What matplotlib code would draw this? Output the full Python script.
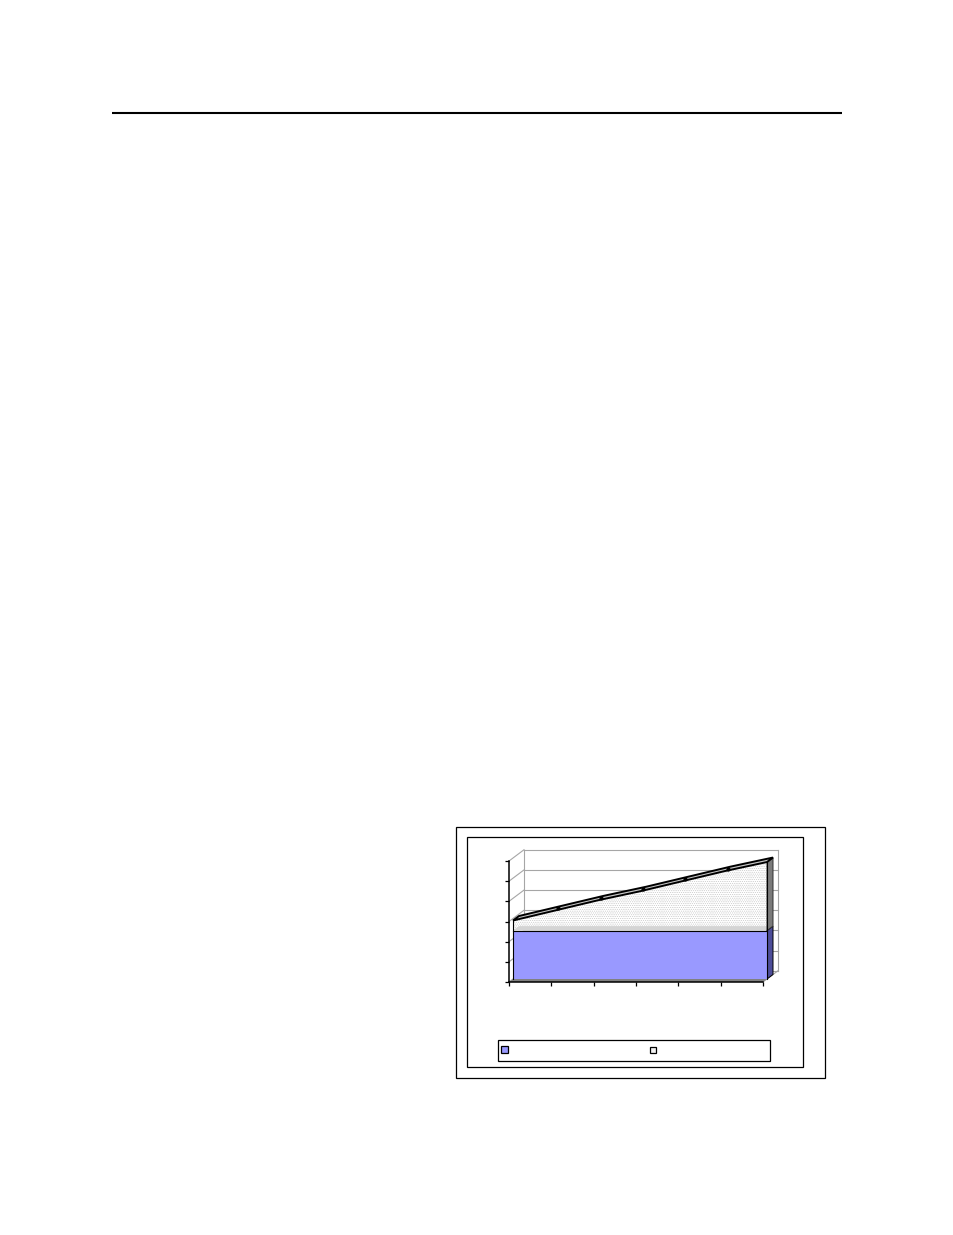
import numpy as np
import matplotlib
matplotlib.use("Agg")
import matplotlib.pyplot as plt
from matplotlib.patches import Polygon, Rectangle

# values (text labels are not legible in the reference)
categories = [0, 1, 2, 3, 4, 5, 6]
y_ticks = [0, 1, 2, 3, 4, 5, 6]
lower_series = [2.4, 2.4, 2.4, 2.4, 2.4, 2.4, 2.4]
upper_series = [0.5, 1.0, 1.5, 1.95, 2.45, 2.95, 3.4]

BLUE = "#9999ff"
BLUE_DARK = "#4d4d99"
GRID = "#a6a6a6"
STIPPLE = "." * 9

plt.rcParams["hatch.linewidth"] = 0.3

W, H = 954, 1235
fig = plt.figure(figsize=(W / 100, H / 100), dpi=100, facecolor="white")

# page furniture, in pixel coordinates
page = fig.add_axes([0, 0, 1, 1], zorder=3)
page.set_xlim(0, W)
page.set_ylim(H, 0)
page.axis("off")
page.plot([112, 842], [113, 113], color="black", lw=1.5, solid_capstyle="butt")
for x0, y0, x1, y1 in [(456.5, 826.5, 825.5, 1078), (467.5, 836.5, 803.5, 1067), (498, 1040, 770, 1061)]:
    page.add_patch(Rectangle((x0, y0), x1 - x0, y1 - y0, fc="none", ec="black", lw=0.9))
page.add_patch(Rectangle((501, 1046), 7, 7, fc=BLUE, ec="black", lw=0.9))
page.add_patch(Rectangle((650, 1047), 6, 6, fc="#f2f2f2", ec="black", lw=0.9))

# plot axes: front corner of the 3d box
ax = fig.add_axes([509 / W, 1 - 982 / H, 254 / W, 121 / H])
ax.set_xlim(categories[0], categories[-1])
ax.set_ylim(y_ticks[0], y_ticks[-1])
ax.patch.set_visible(False)
ax.spines[["top", "right"]].set_visible(False)
ax.spines[["left", "bottom"]].set_linewidth(1.1)
ax.set_xticks(categories)
ax.set_yticks(y_ticks)
ax.set_xticklabels([])
ax.set_yticklabels([])
ax.tick_params(length=3, width=0.9, direction="out")

x = np.array(categories, dtype=float)
lower = np.array(lower_series)
total = lower + np.array(upper_series)

# one pixel of depth in data units
PX = (x[-1] - x[0]) / 254
PY = (y_ticks[-1] - y_ticks[0]) / 121 * 0.75


def at_depth(xs, ys, d):
    return np.column_stack([np.asarray(xs, dtype=float) + d * PX, np.asarray(ys, dtype=float) + d * PY])


def face(pts, **kw):
    ax.add_patch(Polygon(pts, closed=True, clip_on=False, **kw))


WALL, FRONT, BACK = 15, 4, 10
x0, x1 = x[0], x[-1]
ymax = y_ticks[-1]

# back wall, side wall and gridlines
for t in y_ticks:
    ax.plot(*at_depth([x0, x1], [t, t], WALL).T, color=GRID, lw=0.8, clip_on=False, zorder=1)
    ax.plot(*np.vstack([at_depth([x0], [t], 0), at_depth([x0], [t], WALL)]).T,
            color=GRID, lw=0.8, clip_on=False, zorder=1)
ax.plot(*at_depth([x0, x0], [0, ymax], WALL).T, color=GRID, lw=0.8, clip_on=False, zorder=1)
ax.plot(*at_depth([x1, x1], [0, ymax], WALL).T, color=GRID, lw=0.8, clip_on=False, zorder=1)

# floor
face(np.vstack([at_depth([x0, x1], [0, 0], 0), at_depth([x1, x0], [0, 0], FRONT)]),
     fc="#808080", ec="none", zorder=2)
ax.plot(*np.vstack([at_depth([x1], [0], 0), at_depth([x1], [0], WALL)]).T,
        color=GRID, lw=0.8, clip_on=False, zorder=1)

# upper series stippled front, then the top band of the lower series seen through it
ax.fill_between(*at_depth(x, total, FRONT).T, at_depth(x, lower, FRONT)[:, 1],
                facecolor="white", edgecolor="#b0b0b0", hatch=STIPPLE, lw=0, clip_on=False, zorder=4)
face(np.vstack([at_depth([x0, x1], [lower[0], lower[-1]], FRONT),
                at_depth([x1, x0], [lower[-1], lower[0]], BACK)]),
     fc="#d4d4d4", ec="none", zorder=5)

# right-hand sides
face(np.vstack([at_depth([x1, x1], [0, lower[-1]], FRONT), at_depth([x1, x1], [lower[-1], 0], BACK)]),
     fc=BLUE_DARK, ec="black", lw=0.7, zorder=5)
face(np.vstack([at_depth([x1, x1], [lower[-1], total[-1]], FRONT), at_depth([x1, x1], [total[-1], lower[-1]], BACK)]),
     fc="#7a7a7a", ec="#303030", lw=0.7, zorder=5)

# lower series front
ax.fill_between(*at_depth(x, lower, FRONT).T, at_depth(x, 0 * lower, FRONT)[:, 1],
                facecolor=BLUE, edgecolor="none", clip_on=False, zorder=6)
ax.plot(*at_depth([x0, x0], [0, total[0]], FRONT).T, color="black", lw=0.8, clip_on=False, zorder=7)
ax.plot(*at_depth([x1, x1], [0, total[-1]], FRONT).T, color="black", lw=0.8, clip_on=False, zorder=7)
ax.plot(*at_depth(x, lower, FRONT).T, color="black", lw=0.8, clip_on=False, zorder=7)

# top surface of the stack
face(np.vstack([at_depth(x, total, FRONT), at_depth(x[::-1], total[::-1], BACK)]),
     fc="#c8c8c8", ec="black", lw=1.4, zorder=8)
ax.plot(*at_depth(x[1:-1], total[1:-1], 7).T, ls="none", marker="o", ms=2, color="black", clip_on=False, zorder=9)

fig.savefig("out.png", dpi=100, facecolor="white")
